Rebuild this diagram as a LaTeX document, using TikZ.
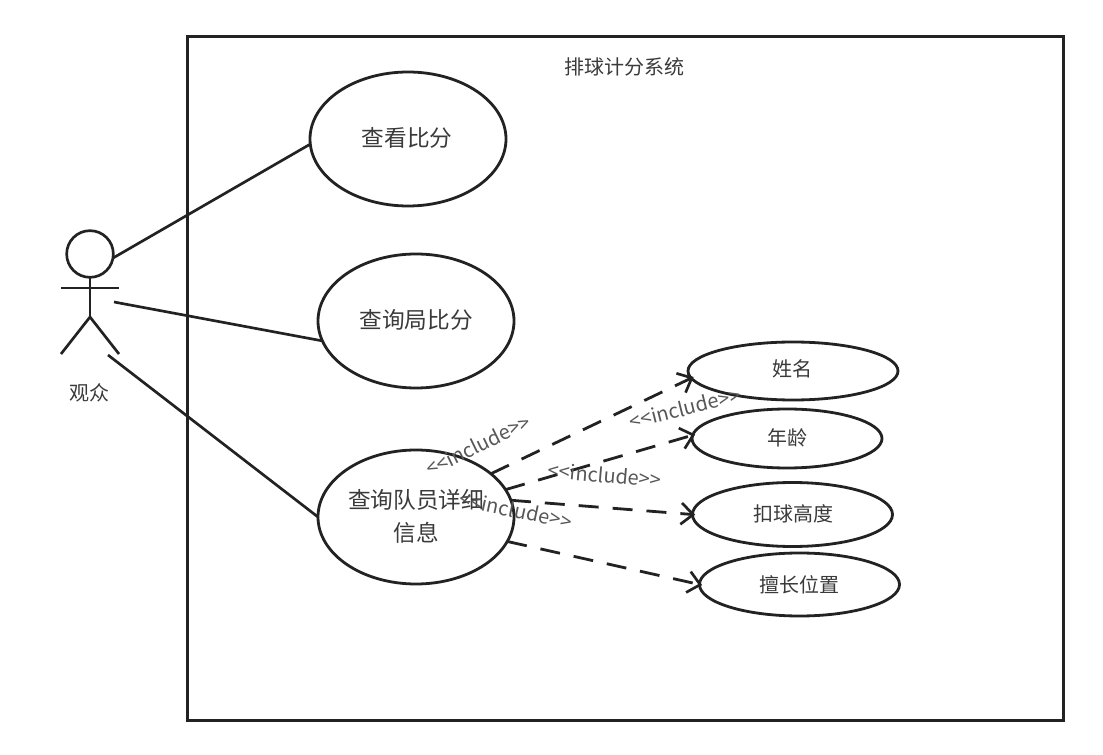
\documentclass[tikz,border=0pt]{standalone}
\usepackage{fontspec}
\setmainfont{Noto Sans CJK SC}
\usetikzlibrary{shapes.geometric,arrows.meta}
\definecolor{ink}{HTML}{222222}
\definecolor{txt}{HTML}{3A3A3A}
\tikzset{
  usecase/.style={draw=ink,ellipse,line width=2.1pt,inner sep=0pt,outer sep=0pt,fill=white},
  bigtext/.style={text=txt,font=\fontsize{17pt}{20pt}\selectfont,inner sep=0pt},
  midtext/.style={text=txt,font=\fontsize{15pt}{18pt}\selectfont,inner sep=0pt},
  steo/.style={text=txt!85,font=\fontsize{15pt}{18pt}\selectfont,inner sep=0pt},
  assoc/.style={draw=ink,line width=2pt},
  dep/.style={draw=ink,line width=2.1pt,shorten >=-2pt,dash pattern=on 15pt off 10.5pt,-{Straight Barb[length=9pt,width=16pt,line width=2pt,line cap=butt]}},
  limb/.style={draw=ink,line width=2pt},
}
\begin{document}
\begin{tikzpicture}[x=0.75pt,y=-0.75pt]
\useasboundingbox (0,0) rectangle (1103,755);
\fill[white] (0,0) rectangle (1103,755);
\node[draw=ink,line width=2.25pt,minimum width=657pt,minimum height=512.25pt,inner sep=0pt,outer sep=0pt] (system) at (625,378.5) {};
\node[midtext] (title) at (624,67) {排球计分系统};

\node[usecase,minimum width=147pt,minimum height=100.5pt] (view) at (408,139) {};
\node[usecase,minimum width=147pt,minimum height=100.5pt] (set) at (416,321) {};
\node[usecase,minimum width=147pt,minimum height=100.5pt] (detail) at (416,517) {};
\node[usecase,minimum width=157.5pt,minimum height=43.5pt] (name) at (793,371) {};
\node[usecase,minimum width=142.5pt,minimum height=44.25pt] (age) at (787,438.5) {};
\node[usecase,minimum width=150pt,minimum height=48pt] (spike) at (792.5,514.5) {};
\node[usecase,minimum width=150pt,minimum height=47.25pt] (pos) at (799.5,584.5) {};

\node[bigtext] (t1) at (407,138) {查看比分};
\node[bigtext] (t2) at (416,320) {查询局比分};
\node[bigtext] (t3a) at (416,500) {查询队员详细};
\node[bigtext] (t3b) at (416,533) {信息};
\node[midtext] (t4) at (792,369) {姓名};
\node[midtext] (t5) at (787,438) {年龄};
\node[midtext] (t6) at (793,514) {扣球高度};
\node[midtext] (t7) at (799.5,585) {擅长位置};

% actor
\node[draw=ink,circle,line width=2pt,minimum size=35pt,inner sep=0pt,outer sep=0pt] (head) at (90,254) {};
\coordinate (hip) at (90,317);
\coordinate (armL) at (61,288);
\coordinate (armR) at (119,288);
\coordinate (legL) at (61,354);
\coordinate (legR) at (119,354);
\draw[limb] (head.south) -- (hip);
\draw[limb] (armL) -- (armR);
\draw[limb] (legL) -- (hip) -- (legR);
\node[midtext] (actor) at (89,393) {观众};
\coordinate (a2) at (114,302);
\coordinate (a3) at (108,355);

\draw[assoc] (head.-10) -- (view.183);
\draw[assoc] (a2) -- (set.192);
\draw[assoc] (a3) -- (detail.west);

\draw[dep] (detail.30) -- (name.184);
\draw[dep] (detail.17) -- (age.178);
\draw[dep] (detail.10) -- (spike.180);
\draw[dep] (detail.-15) -- (pos.180);

\node[steo,rotate=26] (i1) at (478,445) {<{}<include>{}>};
\node[steo,rotate=14] (i2) at (685,408) {<{}<include>{}>};
\node[steo,rotate=-5] (i3) at (605,475) {<{}<include>{}>};
\node[steo,rotate=-12] (i4) at (516,510) {<{}<include>{}>};
\end{tikzpicture}
\end{document}
